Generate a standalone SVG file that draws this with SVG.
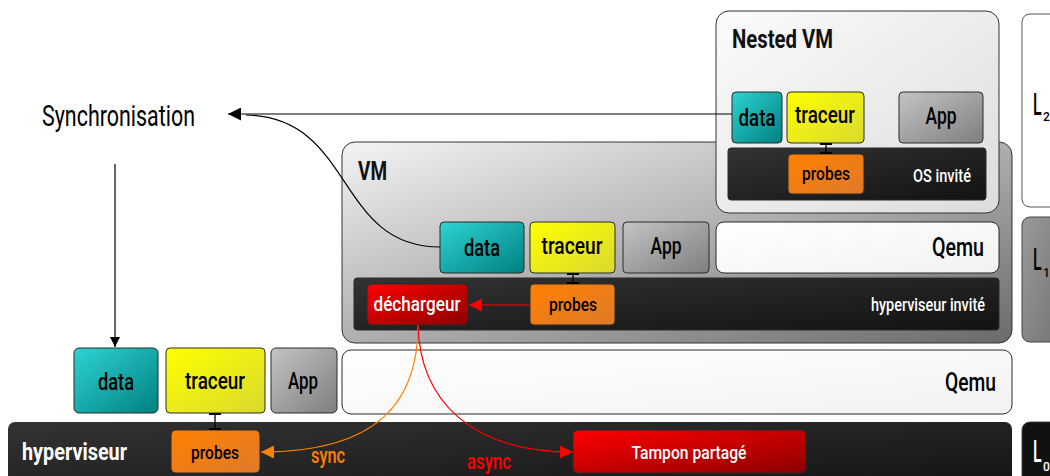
<svg xmlns="http://www.w3.org/2000/svg" width="1050" height="476" viewBox="0 0 1050 476">
<style>
text{font-family:Roboto,"Liberation Sans",sans-serif;font-weight:500}
.bx{stroke:#2a2a2a;stroke-width:1}
.t22{font-size:24px;fill:#000;text-anchor:middle}
.lbl{font-size:18px;fill:#fff;text-anchor:end}
.ttl{font-size:26px;font-weight:bold;fill:#111}
.bold{font-weight:bold}
.lv{font-weight:400}
.cn{fill:none;stroke-width:1.2}
</style>
<defs>
<linearGradient id="gData" x1="0" y1="0" x2="1" y2="1"><stop offset="0" stop-color="#2ed3d3"/><stop offset="1" stop-color="#008080"/></linearGradient>
<linearGradient id="gTrac" x1="0" y1="0" x2="1" y2="1"><stop offset="0" stop-color="#ffff00"/><stop offset="1" stop-color="#d9d930"/></linearGradient>
<linearGradient id="gApp" x1="0" y1="0" x2="1" y2="1"><stop offset="0" stop-color="#c4c4c4"/><stop offset="1" stop-color="#7e7e7e"/></linearGradient>
<linearGradient id="gProb" x1="0" y1="0" x2="1" y2="1"><stop offset="0" stop-color="#ff8000"/><stop offset="1" stop-color="#de7a2a"/></linearGradient>
<linearGradient id="gRed" x1="0" y1="0" x2="1" y2="1"><stop offset="0" stop-color="#ff0000"/><stop offset="1" stop-color="#8c0000"/></linearGradient>
<linearGradient id="gBlack" x1="0" y1="0" x2="1" y2="1"><stop offset="0" stop-color="#333"/><stop offset="1" stop-color="#121212"/></linearGradient>
<linearGradient id="gQemu" x1="0" y1="0" x2="1" y2="1"><stop offset="0" stop-color="#fff"/><stop offset="1" stop-color="#f2f2f2"/></linearGradient>
<linearGradient id="gVM" x1="0" y1="0" x2="1" y2="1"><stop offset="0" stop-color="#f4f4f4"/><stop offset="1" stop-color="#6a6a6a"/></linearGradient>
<linearGradient id="gNest" x1="0" y1="0" x2="1" y2="1"><stop offset="0" stop-color="#fbfbfb"/><stop offset="1" stop-color="#dcdcdc"/></linearGradient>
<linearGradient id="gL1" x1="0" y1="0" x2="1" y2="1"><stop offset="0" stop-color="#9a9a9a"/><stop offset="1" stop-color="#747474"/></linearGradient>
<marker id="ahK" viewBox="0 0 10 10" refX="10" refY="5" markerWidth="20" markerHeight="13" markerUnits="userSpaceOnUse" orient="auto"><path d="M0,0 L10,5 L0,10 z" fill="#000"/></marker>
<marker id="ahK2" viewBox="0 0 10 10" refX="10" refY="5" markerWidth="12" markerHeight="10" markerUnits="userSpaceOnUse" orient="auto"><path d="M0,0 L10,5 L0,10 z" fill="#000"/></marker>
<marker id="ahR" viewBox="0 0 10 10" refX="10" refY="5" markerWidth="13" markerHeight="14" markerUnits="userSpaceOnUse" orient="auto"><path d="M0,0 L10,5 L0,10 z" fill="#ff0000"/></marker>
<marker id="ahO" viewBox="0 0 10 10" refX="10" refY="5" markerWidth="13" markerHeight="14" markerUnits="userSpaceOnUse" orient="auto"><path d="M0,0 L10,5 L0,10 z" fill="#ff8000"/></marker>
<marker id="tee" viewBox="0 0 2 12" refX="1" refY="6" markerWidth="2" markerHeight="12" markerUnits="userSpaceOnUse" orient="auto"><rect width="2" height="12" fill="#000"/></marker>
</defs>

<g id="level-labels">
<g id="L2"><rect x="1022" y="14" width="40" height="193" rx="8" fill="#fff" stroke="#555"/><text transform="translate(1033,115) scale(0.5,1)" font-size="32" fill="#000">L</text><text x="1043" y="121" font-size="12" fill="#000">2</text></g>
<g id="L1"><rect x="1022" y="217" width="40" height="125" rx="8" fill="url(#gL1)" stroke="#444"/><text transform="translate(1033,270) scale(0.5,1)" font-size="32" fill="#000">L</text><text x="1043" y="277" font-size="12" fill="#000">1</text></g>
<g id="L0"><rect x="1022" y="422" width="40" height="70" rx="8" fill="#111" stroke="#444"/><text transform="translate(1033,462) scale(0.5,1)" font-size="32" fill="#fff">L</text><text x="1043" y="471" font-size="12" fill="#fff">0</text></g>
</g>

<g id="vm">
<rect x="342" y="142" width="670" height="201" rx="13" fill="url(#gVM)" stroke="#333"/>
<text class="ttl" x="358" y="180" font-size="27" textLength="29" lengthAdjust="spacingAndGlyphs">VM</text>
<g id="vm-data"><rect class="bx" x="440" y="222" width="84" height="51" rx="4" fill="url(#gData)"/><text class="t22" x="482" y="256" textLength="36" lengthAdjust="spacingAndGlyphs">data</text></g>
<g id="vm-traceur"><rect class="bx" x="530" y="222" width="85" height="51" rx="4" fill="url(#gTrac)"/><text class="t22" x="572" y="254" textLength="61" lengthAdjust="spacingAndGlyphs">traceur</text></g>
<g id="vm-app"><rect class="bx" x="623" y="222" width="86" height="51" rx="4" fill="url(#gApp)"/><text class="t22" x="666" y="254" textLength="31" lengthAdjust="spacingAndGlyphs">App</text></g>
<g id="vm-qemu"><rect class="bx" x="716" y="222" width="283" height="51" rx="8" fill="url(#gQemu)"/><text x="984" y="256" font-size="25" text-anchor="end" fill="#000" textLength="52" lengthAdjust="spacingAndGlyphs">Qemu</text></g>
<g id="vm-hyperviseur-invite"><rect class="bx" x="354" y="278" width="645" height="52" rx="3" fill="url(#gBlack)"/><text class="lbl" x="985" y="311" textLength="114" lengthAdjust="spacingAndGlyphs">hyperviseur invité</text></g>
<g id="vm-dechargeur"><rect class="bx" x="367" y="284" width="101" height="41" rx="5" fill="url(#gRed)"/><text x="417" y="311" font-size="20" text-anchor="middle" fill="#fff" textLength="87" lengthAdjust="spacingAndGlyphs">déchargeur</text></g>
<g id="vm-probes"><rect class="bx" x="530" y="284" width="85" height="41" rx="4" fill="url(#gProb)"/><text x="573" y="311" font-size="19" text-anchor="middle" fill="#000" textLength="48" lengthAdjust="spacingAndGlyphs">probes</text></g>
</g>

<g id="nested-vm">
<rect x="716" y="11" width="283" height="202" rx="13" fill="url(#gNest)" stroke="#333"/>
<text class="ttl" x="732" y="48" textLength="101" lengthAdjust="spacingAndGlyphs">Nested VM</text>
<g id="nvm-data"><rect class="bx" x="732" y="92" width="50" height="51" rx="4" fill="url(#gData)"/><text class="t22" x="757" y="126" textLength="37" lengthAdjust="spacingAndGlyphs">data</text></g>
<g id="nvm-traceur"><rect class="bx" x="787" y="92" width="77" height="51" rx="4" fill="url(#gTrac)"/><text class="t22" x="825" y="123" textLength="60" lengthAdjust="spacingAndGlyphs">traceur</text></g>
<g id="nvm-app"><rect class="bx" x="899" y="92" width="84" height="51" rx="4" fill="url(#gApp)"/><text class="t22" x="941" y="124" textLength="31" lengthAdjust="spacingAndGlyphs">App</text></g>
<g id="nvm-os-invite"><rect class="bx" x="728" y="148" width="258" height="52" rx="3" fill="url(#gBlack)"/><text class="lbl" x="971" y="182" font-size="17" textLength="58" lengthAdjust="spacingAndGlyphs">OS invité</text></g>
<g id="nvm-probes"><rect class="bx" x="788" y="154" width="76" height="40" rx="4" fill="url(#gProb)"/><text x="826" y="180" font-size="19" text-anchor="middle" fill="#000" textLength="48" lengthAdjust="spacingAndGlyphs">probes</text></g>
</g>

<g id="synchronisation"><text class="lv" x="42" y="126" font-size="29" fill="#000" textLength="153" lengthAdjust="spacingAndGlyphs">Synchronisation</text></g>

<g id="host-data"><rect class="bx" x="74" y="348" width="84" height="65" rx="5" fill="url(#gData)"/><text class="t22" x="116" y="390" textLength="36" lengthAdjust="spacingAndGlyphs">data</text></g>
<g id="host-traceur"><rect class="bx" x="166" y="348" width="99" height="65" rx="4" fill="url(#gTrac)"/><text class="t22" x="215" y="389" textLength="60" lengthAdjust="spacingAndGlyphs">traceur</text></g>
<g id="host-app"><rect class="bx" x="271" y="348" width="66" height="65" rx="5" fill="url(#gApp)"/><text class="t22" x="303" y="389" textLength="30" lengthAdjust="spacingAndGlyphs">App</text></g>
<g id="host-qemu"><rect class="bx" x="342" y="350" width="670" height="64" rx="9" fill="url(#gQemu)"/><text x="996" y="391" font-size="25" text-anchor="end" fill="#000" textLength="51" lengthAdjust="spacingAndGlyphs">Qemu</text></g>
<g id="hyperviseur"><rect x="8" y="422" width="1004" height="70" rx="7" fill="url(#gBlack)"/><text class="bold" x="22" y="460" font-size="23" fill="#fff" textLength="105" lengthAdjust="spacingAndGlyphs">hyperviseur</text></g>
<g id="host-probes"><rect class="bx" x="171" y="430" width="89" height="43" rx="5" fill="url(#gProb)"/><text x="215" y="459" font-size="19" text-anchor="middle" fill="#000" textLength="48" lengthAdjust="spacingAndGlyphs">probes</text></g>
<g id="tampon"><rect class="bx" x="573" y="430" width="233" height="43" rx="5" fill="url(#gRed)"/><text x="689" y="459" font-size="19" text-anchor="middle" fill="#fff" textLength="115" lengthAdjust="spacingAndGlyphs">Tampon partagé</text></g>

<g id="connectors">
<path class="cn" stroke="#000" d="M732,114 L228,114" marker-end="url(#ahK)"/>
<path class="cn" stroke="#000" d="M440,247 C335,247 355,117 246,115"/>
<path class="cn" stroke="#000" d="M115,164 L115,347" marker-end="url(#ahK2)"/>
<path stroke="#000" stroke-width="1.3" d="M826,144 L826,153" marker-start="url(#tee)" marker-end="url(#tee)"/>
<path stroke="#000" stroke-width="1.3" d="M573,274 L573,283" marker-start="url(#tee)" marker-end="url(#tee)"/>
<path stroke="#000" stroke-width="1.3" d="M215,414 L215,429" marker-start="url(#tee)" marker-end="url(#tee)"/>
<path class="cn" stroke="#ff0000" d="M530,305 L469,305" marker-end="url(#ahR)"/>
<path class="cn" stroke="#ff8000" d="M418,325 C418,400 380,452 261,452" marker-end="url(#ahO)"/>
<path class="cn" stroke="#ff0000" d="M418,325 C420,400 470,452 573,452" marker-end="url(#ahR)"/>
<text x="328" y="463" font-size="22" text-anchor="middle" fill="#ff8000" textLength="34" lengthAdjust="spacingAndGlyphs">sync</text>
<text x="489" y="469" font-size="22" text-anchor="middle" fill="#ff0000" textLength="44" lengthAdjust="spacingAndGlyphs">async</text>
</g>
</svg>
